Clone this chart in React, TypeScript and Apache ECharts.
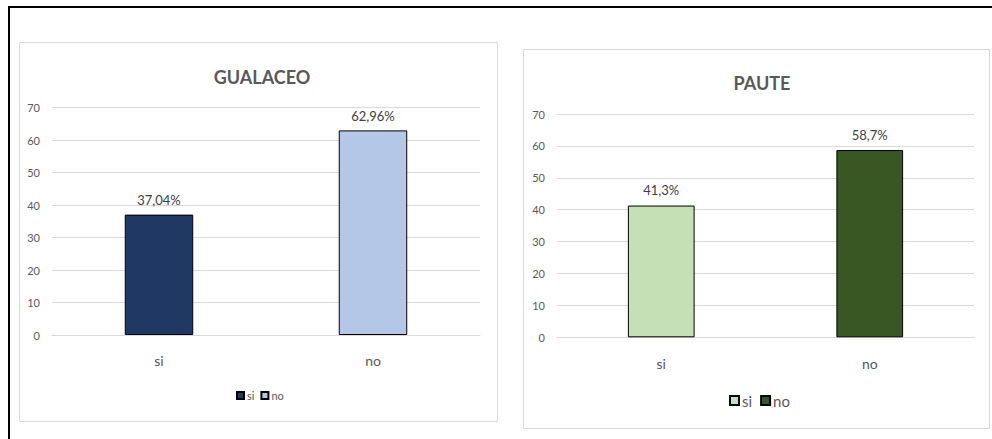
import React, { useEffect, useRef } from "react";
import * as echarts from "echarts";

const categories = ["si", "no"];
const gualaceoValues = [37.04, 62.96];
const pauteValues = [41.3, 58.7];
const gualaceoTitle = "GUALACEO";
const pauteTitle = "PAUTE";
const gualaceoColors = ["#203864", "#b4c7e7"];
const pauteColors = ["#c5e0b4", "#385723"];

const FONT = "Lato, 'Open Sans', sans-serif";
const fmt = (v: number) => String(v).replace(".", ",") + "%";

function seriesFor(prefix: string, values: number[], colors: string[], idx: number, dist: number) {
  return categories.map((c, i) => ({
    name: prefix + "-" + c,
    type: "bar",
    xAxisIndex: idx,
    yAxisIndex: idx,
    stack: "s" + idx,
    barWidth: "32%",
    data: categories.map((_, j) => (j === i ? values[i] : "-")),
    itemStyle: { color: colors[i], borderColor: "#000", borderWidth: 1 },
    label: {
      show: true,
      position: "top",
      distance: dist,
      fontFamily: FONT,
      fontSize: 13,
      color: "#404040",
      formatter: (p: any) => fmt(p.value),
    },
  }));
}

export default function App() {
  const ref = useRef<HTMLDivElement>(null);
  useEffect(() => {
    if (!ref.current) return;
    const chart = echarts.init(ref.current, undefined, { renderer: "svg" });
    const yAxisBase = {
      type: "value",
      min: 0,
      max: 70,
      interval: 10,
      axisLine: { show: false },
      axisTick: { show: false },
      splitLine: { lineStyle: { color: "#d9d9d9", width: 1 } },
      axisLabel: { fontFamily: FONT, fontSize: 11, color: "#595959", margin: 12 },
    };
    const xAxisBase = {
      type: "category",
      data: categories,
      axisLine: { lineStyle: { color: "#d9d9d9", width: 1 } },
      axisTick: { show: false },
    };
    chart.setOption({
      animation: false,
      title: [
        {
          text: gualaceoTitle,
          left: 257,
          top: 63,
          textAlign: "center",
          textStyle: { fontFamily: FONT, fontSize: 18, fontWeight: "bold", color: "#595959" },
        },
        {
          text: pauteTitle,
          left: 757,
          top: 69,
          textAlign: "center",
          textStyle: { fontFamily: FONT, fontSize: 18, fontWeight: "bold", color: "#595959" },
        },
      ],
      grid: [
        { left: 52, top: 107.5, width: 428, height: 227.5 },
        { left: 557, top: 114, width: 417, height: 223.3 },
      ],
      xAxis: [
        { ...xAxisBase, gridIndex: 0, axisLabel: { fontFamily: FONT, fontSize: 14, color: "#595959", margin: 18 } },
        { ...xAxisBase, gridIndex: 1, axisLabel: { fontFamily: FONT, fontSize: 14, color: "#595959", margin: 19 } },
      ],
      yAxis: [
        { ...yAxisBase, gridIndex: 0 },
        { ...yAxisBase, gridIndex: 1 },
      ],
      legend: [
        {
          data: categories.map((c) => "G-" + c),
          icon: "rect",
          left: 236,
          top: 390,
          itemWidth: 7,
          itemHeight: 7,
          itemGap: 6,
          padding: 0,
          formatter: (n: string) => n.split("-")[1],
          textStyle: { fontFamily: FONT, fontSize: 11, color: "#595959", padding: [0, 0, 0, -2] },
          selectedMode: false,
        },
        {
          data: categories.map((c) => "P-" + c),
          icon: "rect",
          left: 729,
          top: 393,
          itemWidth: 9,
          itemHeight: 9,
          itemGap: 8,
          padding: 0,
          formatter: (n: string) => n.split("-")[1],
          textStyle: { fontFamily: FONT, fontSize: 15, color: "#595959", padding: [0, 0, 0, -2] },
          selectedMode: false,
        },
      ],
      series: [
        ...seriesFor("G", gualaceoValues, gualaceoColors, 0, 8),
        ...seriesFor("P", pauteValues, pauteColors, 1, 9),
      ],
      graphic: [
        { type: "rect", shape: { x: 19.5, y: 42.5, width: 478, height: 379 }, style: { fill: "none", stroke: "#d9d9d9", lineWidth: 1 }, z: -1 },
        { type: "rect", shape: { x: 523.5, y: 49.5, width: 466, height: 379 }, style: { fill: "none", stroke: "#d9d9d9", lineWidth: 1 }, z: -1 },
      ],
    });
    return () => chart.dispose();
  }, []);
  return (
    <div style={{ position: "absolute", left: 0, top: 0, width: 992, height: 439, background: "#fff", overflow: "hidden" }}>
      <div ref={ref} style={{ position: "absolute", left: 0, top: 0, width: 992, height: 439 }} />
      <div style={{ position: "absolute", left: 8, top: 6, width: 984, height: 2, background: "#000" }} />
      <div style={{ position: "absolute", left: 8, top: 6, width: 2, height: 433, background: "#000" }} />
    </div>
  );
}
